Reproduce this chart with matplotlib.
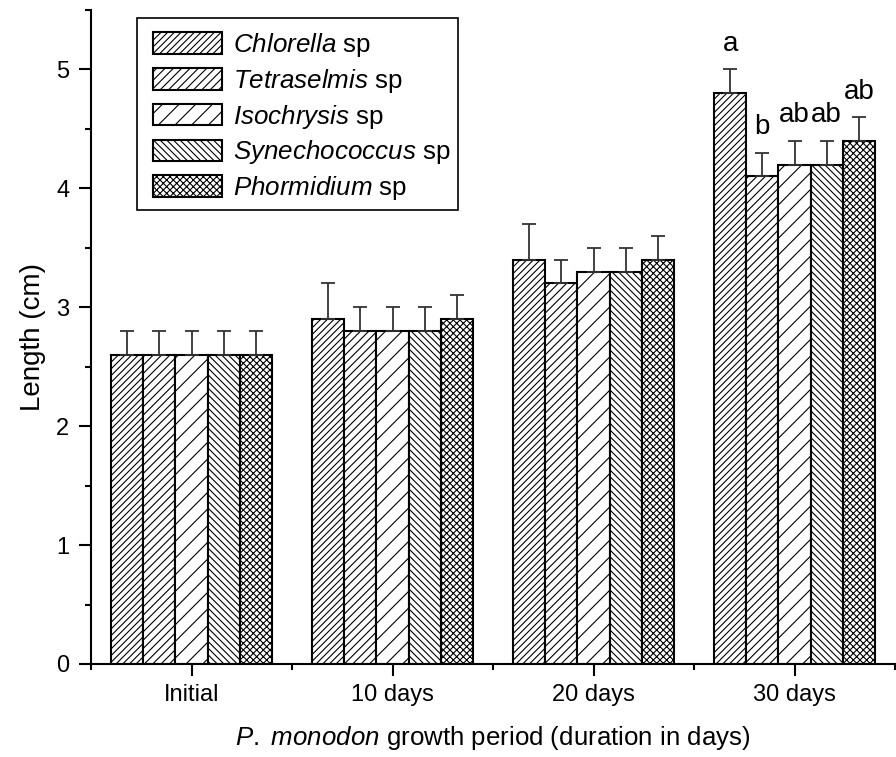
import matplotlib
matplotlib.use('Agg')
import matplotlib.pyplot as plt
import numpy as np
from matplotlib.ticker import MultipleLocator, FixedLocator
from matplotlib.patches import Rectangle

plt.rcParams['font.family'] = ['Liberation Sans', 'DejaVu Sans']
plt.rcParams['mathtext.fontset'] = 'custom'
plt.rcParams['mathtext.rm'] = 'Liberation Sans'
plt.rcParams['mathtext.it'] = 'Liberation Sans:italic'
plt.rcParams['hatch.linewidth'] = 0.8
plt.rcParams['hatch.color'] = 'black'

# ---- data ----
periods = ['Initial', '10 days', '20 days', '30 days']
species = ['Chlorella', 'Tetraselmis', 'Isochrysis', 'Synechococcus', 'Phormidium']
chlorella = [2.6, 2.9, 3.4, 4.8]
tetraselmis = [2.6, 2.8, 3.2, 4.1]
isochrysis = [2.6, 2.8, 3.3, 4.2]
synechococcus = [2.6, 2.8, 3.3, 4.2]
phormidium = [2.6, 2.9, 3.4, 4.4]
chlorella_err = [0.2, 0.3, 0.3, 0.2]
tetraselmis_err = [0.2, 0.2, 0.2, 0.2]
isochrysis_err = [0.2, 0.2, 0.2, 0.2]
synechococcus_err = [0.2, 0.2, 0.2, 0.2]
phormidium_err = [0.2, 0.2, 0.2, 0.2]
letters_30days = ['a', 'b', 'ab', 'ab', 'ab']

values = [chlorella, tetraselmis, isochrysis, synechococcus, phormidium]
errors = [chlorella_err, tetraselmis_err, isochrysis_err, synechococcus_err, phormidium_err]
hatches = ['/' * 5, '/' * 4, '/' * 2, '\\' * 5, 'x' * 5]

W, H = 896, 757
fig = plt.figure(figsize=(W / 100, H / 100), dpi=100)
ax = fig.add_axes([91 / W, 1 - 664 / H, (895 - 91) / W, (664 - 10) / H])

x = np.arange(len(periods))
bw = 0.16
handles = []
for i, (sp, vals, errs, h) in enumerate(zip(species, values, errors, hatches)):
    xi = x + (i - 2) * bw
    b = ax.bar(xi, vals, bw, facecolor='white', edgecolor='black', linewidth=1.5,
               hatch=h, label=r'$\mathit{' + sp + r'}$ sp', zorder=2)
    handles.append(b)
    ax.errorbar(xi, vals, yerr=[np.zeros(len(errs)), errs], fmt='none',
                ecolor='#333333', elinewidth=1.3, capsize=4.7, capthick=1.3, zorder=3)
    # significance letters for last period
    ax.annotate(letters_30days[i], (xi[-1], vals[-1] + errs[-1]),
                xytext=(0, 9), textcoords='offset points',
                ha='center', va='bottom', fontsize=20)

ax.set_xlim(-0.5, 3.5)
ax.set_ylim(0, 5.5)
ax.set_xticks(x)
ax.set_xticklabels(periods)
ax.xaxis.set_minor_locator(FixedLocator(np.arange(-0.5, 3.6, 1.0)))
ax.yaxis.set_major_locator(MultipleLocator(1))
ax.yaxis.set_minor_locator(MultipleLocator(0.5))

for s in ['top', 'right']:
    ax.spines[s].set_visible(False)
for s in ['left', 'bottom']:
    ax.spines[s].set_linewidth(1.5)

ax.tick_params(axis='both', which='major', direction='out', length=8.6, width=1.5,
               labelsize=17)
ax.tick_params(axis='both', which='minor', direction='out', length=4.5, width=1.5)
ax.tick_params(axis='y', which='major', pad=7)
ax.tick_params(axis='x', which='major', pad=6)

ax.set_ylabel('Length (cm)', fontsize=20, labelpad=7)
ax.set_xlabel(r'$\mathit{P.\ monodon}$ growth period (duration in days)', fontsize=18.6,
              labelpad=13)

# legend with its own frame
frame = Rectangle((137 / W, 1 - 210 / H), (458 - 137) / W, (210 - 18) / H,
                  transform=fig.transFigure, facecolor='white', edgecolor='black',
                  linewidth=1.2, zorder=5)
fig.patches.append(frame)
leg = fig.legend(handles=handles, loc='upper left',
                 bbox_to_anchor=(153 / W, 1 - 31 / H), bbox_transform=fig.transFigure,
                 frameon=False, fontsize=18.7, borderpad=0, borderaxespad=0,
                 handlelength=2.65, handleheight=0.9, handletextpad=0.42,
                 labelspacing=0.3)
leg.set_zorder(6)

fig.savefig('out.png', dpi=100)
